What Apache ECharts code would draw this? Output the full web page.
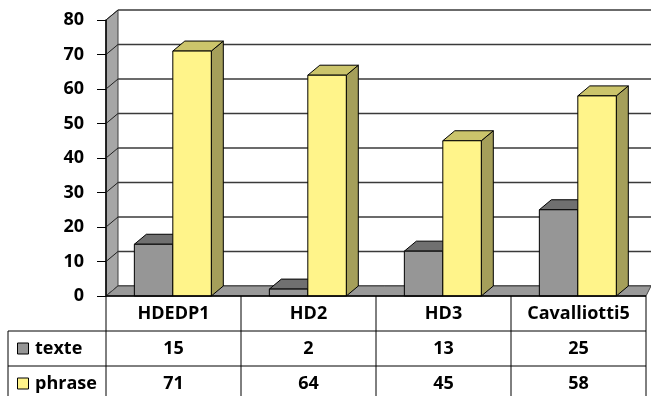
<!DOCTYPE html>
<html>
<head>
<meta charset="utf-8">
<script src="https://cdn.jsdelivr.net/npm/echarts@6/dist/echarts.min.js"></script>
<style>
html,body{margin:0;padding:0;background:#fff;}
#main{width:651px;height:396px;}
</style>
</head>
<body>
<div id="main"></div>
<script>
const categories = ['HDEDP1', 'HD2', 'HD3', 'Cavalliotti5'];
const seriesNames = ['texte', 'phrase'];
const texteValues = [15, 2, 13, 25];
const phraseValues = [71, 64, 45, 58];
const yTicks = [0, 10, 20, 30, 40, 50, 60, 70, 80];

const FONT = '"Open Sans", "DejaVu Sans", sans-serif';
const DX = 12, DY = -10;
const W = 651;
const colors = {
  texte: { front: '#969696', top: '#707070', side: '#5e5e5e' },
  phrase: { front: '#fff48a', top: '#cbc46b', side: '#a59f5a' }
};

function makeRender(offL, offR, col) {
  return function (params, api) {
    const xi = api.value(0), v = api.value(1);
    const p0 = api.coord([xi, 0]);
    const p1 = api.coord([xi, v]);
    const bw = api.size([1, 0])[0];
    const l = p0[0] + offL * bw, r = p0[0] + offR * bw;
    const yb = p0[1], yt = p1[1];
    const st = { stroke: '#000', lineWidth: 1 };
    return {
      type: 'group',
      children: [
        { type: 'polygon', shape: { points: [[r, yt], [r + DX, yt + DY], [r + DX, yb + DY], [r, yb]] },
          style: Object.assign({ fill: col.side }, st) },
        { type: 'polygon', shape: { points: [[l, yt], [l + DX, yt + DY], [r + DX, yt + DY], [r, yt]] },
          style: Object.assign({ fill: col.top }, st) },
        { type: 'rect', shape: { x: l, y: yt, width: r - l, height: yb - yt },
          style: Object.assign({ fill: col.front }, st) }
      ]
    };
  };
}

const chart = echarts.init(document.getElementById('main'));
chart.setOption({
  animation: false,
  grid: { left: 106, right: 5, top: 20, bottom: 100 },
  xAxis: {
    type: 'category', data: categories,
    axisLine: { show: false }, axisTick: { show: false }, axisLabel: { show: false }
  },
  yAxis: {
    type: 'value', min: 0, max: 80, interval: 10,
    axisLine: { show: true, lineStyle: { color: '#000', width: 1.5 } },
    axisTick: { show: true, length: 9, lineStyle: { color: '#000', width: 1 } },
    axisLabel: { margin: 22, fontFamily: FONT, fontWeight: 'bold', fontSize: 18, color: '#000',
      formatter: v => String(yTicks[yTicks.indexOf(v)]) },
    splitLine: { show: false }
  },
  series: [
    { type: 'custom', name: seriesNames[0], z: 3,
      data: texteValues.map((v, i) => [i, v]), encode: { x: 0, y: 1 },
      renderItem: makeRender(-0.29, -0.005, colors.texte) },
    { type: 'custom', name: seriesNames[1], z: 4,
      data: phraseValues.map((v, i) => [i, v]), encode: { x: 0, y: 1 },
      renderItem: makeRender(-0.005, 0.28, colors.phrase) }
  ]
});

// Build walls and data table from the axes' own scales
const yPx = v => chart.convertToPixel({ yAxisIndex: 0 }, v);
const xPx = i => chart.convertToPixel({ xAxisIndex: 0 }, i);
const c0 = xPx(0), c1 = xPx(1);
const bw = c1 - c0;
const x0 = c0 - bw / 2;
const xR = xPx(categories.length - 1) + bw / 2;
const y0 = yPx(0), yTop = yPx(yTicks[yTicks.length - 1]);

const g = [];
// left wall
g.push({ type: 'polygon', z: 0, shape: { points: [[x0, yTop], [x0 + DX, yTop + DY], [x0 + DX, y0 + DY], [x0, y0]] },
  style: { fill: '#a6a6a6', stroke: '#404040', lineWidth: 1 } });
// back wall gridlines + left-wall diagonals
yTicks.forEach(v => {
  const y = yPx(v);
  g.push({ type: 'line', z: 1, shape: { x1: x0 + DX, y1: y + DY, x2: W, y2: y + DY },
    style: { stroke: '#3a3a3a', lineWidth: 1.5 } });
  g.push({ type: 'line', z: 1, shape: { x1: x0, y1: y, x2: x0 + DX, y2: y + DY },
    style: { stroke: '#202020', lineWidth: 1 } });
});
// floor
g.push({ type: 'polygon', z: 1, shape: { points: [[x0, y0], [x0 + DX, y0 + DY], [W, y0 + DY], [xR, y0]] },
  style: { fill: '#999999', stroke: '#444', lineWidth: 1 } });

// table
const rowH = 35;
const tblLeft = 8;
const rTop = y0;
const r1 = rTop + rowH, r2 = r1 + rowH, r3 = r2 + rowH;
const lineStyle = { stroke: '#000', lineWidth: 1 };
g.push({ type: 'line', z: 5, shape: { x1: x0, y1: rTop, x2: xR, y2: rTop }, style: { stroke: '#000', lineWidth: 1.5 } });
g.push({ type: 'line', z: 5, shape: { x1: tblLeft, y1: r1, x2: xR, y2: r1 }, style: lineStyle });
g.push({ type: 'line', z: 5, shape: { x1: tblLeft, y1: r2, x2: xR, y2: r2 }, style: lineStyle });
g.push({ type: 'line', z: 5, shape: { x1: tblLeft, y1: r1, x2: tblLeft, y2: r3 }, style: lineStyle });
for (let i = 0; i <= categories.length; i++) {
  const x = x0 + i * bw;
  g.push({ type: 'line', z: 5, shape: { x1: x, y1: rTop, x2: x, y2: r3 }, style: lineStyle });
}
const txt = (text, x, y, align) => ({
  type: 'text', z: 6, x: x, y: y,
  style: { text: text, fill: '#000', font: 'bold 18px ' + FONT, align: align || 'center', verticalAlign: 'middle' }
});
categories.forEach((c, i) => {
  const cx = xPx(i);
  g.push(txt(c, cx, rTop + rowH / 2));
  g.push(txt(String(texteValues[i]), cx, r1 + rowH / 2));
  g.push(txt(String(phraseValues[i]), cx, r2 + rowH / 2));
});
[[seriesNames[0], r1, colors.texte.front], [seriesNames[1], r2, colors.phrase.front]].forEach(([name, ry, fill]) => {
  const cy = ry + rowH / 2;
  g.push({ type: 'rect', z: 6, shape: { x: 17.5, y: cy - 5.5, width: 11, height: 11 },
    style: { fill: fill, stroke: '#000', lineWidth: 1 } });
  g.push(txt(name, 35, cy, 'left'));
});

chart.setOption({ graphic: g });
</script>
</body>
</html>
